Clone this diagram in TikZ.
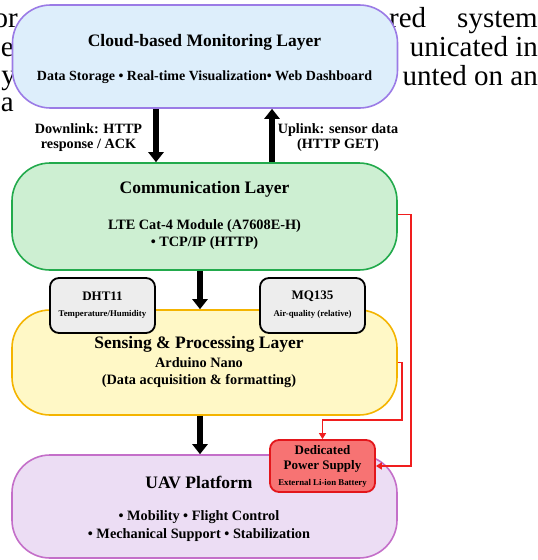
\documentclass[tikz,border=0pt]{standalone}
\usepackage{fontspec}
\setmainfont{Liberation Serif}
\usetikzlibrary{arrows.meta,calc}
\definecolor{cloudfill}{HTML}{DDEEFB}
\definecolor{cloudline}{HTML}{9B7BE6}
\definecolor{commfill}{HTML}{CDEFD2}
\definecolor{commline}{HTML}{22AA4C}
\definecolor{sensfill}{HTML}{FFF8C6}
\definecolor{sensline}{HTML}{F4B400}
\definecolor{uavfill}{HTML}{ECDDF4}
\definecolor{uavline}{HTML}{C46FC9}
\definecolor{pwrfill}{HTML}{F77373}
\definecolor{pwrline}{HTML}{E3161B}
\definecolor{sensorfill}{HTML}{EDEDED}
\definecolor{redwire}{HTML}{F01E1E}
\begin{document}
\begin{tikzpicture}[x=1pt,y=-1pt,
  layerbox/.style={draw, line width=1.6pt, rounded corners=38pt, minimum width=385pt, inner sep=0pt},
  smallbox/.style={draw, line width=1.8pt, rounded corners=9pt, minimum width=105pt, inner sep=0pt},
  bigarrow/.style={line width=5.5pt, -{Triangle[width=15pt,length=10pt]}},
  wire/.style={draw=redwire, line width=1.4pt, -{Triangle[width=7pt,length=6pt]}},
  bgtext/.style={font=\fontsize{29}{31}\selectfont, inner sep=0pt},
  ttl/.style={font=\fontsize{17.5}{20}\selectfont\bfseries, inner sep=0pt},
  sub/.style={font=\fontsize{14.3}{16}\selectfont\bfseries, inner sep=0pt},
  box/.style={font=\fontsize{13}{15}\selectfont\bfseries, inner sep=0pt},
  lbl/.style={font=\fontsize{14.2}{15.5}\selectfont\bfseries, align=center, inner sep=0pt},
  tiny/.style={font=\fontsize{8.8}{10}\selectfont\bfseries, inner sep=0pt}
]
\useasboundingbox (0,0) rectangle (538,560);
\clip (0,0) rectangle (538,560);
\fill[white] (0,0) rectangle (538,560);

% background page text
\node[bgtext, anchor=base east] (bg1) at (18,27) {or};
\node[bgtext, anchor=base east] (bg2) at (14,56) {e};
\node[bgtext, anchor=base east] (bg3) at (16,84) {y};
\node[bgtext, anchor=base east] (bg4) at (14,111) {a};
\node[bgtext, anchor=base west] (bg5) at (389,27) {red};
\node[bgtext, anchor=base east] (bg6) at (538,27) {system};
\node[bgtext, anchor=base east] (bg7) at (538,56) {unicated in};
\node[bgtext, anchor=base east] (bg8) at (538,85) {unted on an};

% layers
\node[layerbox, draw=cloudline, fill=cloudfill, minimum height=103pt] (cloud) at (205,56.5) {};
\node[layerbox, draw=commline, fill=commfill, minimum height=107pt] (comm) at (204.5,216.5) {};
\node[layerbox, draw=sensline, fill=sensfill, minimum height=105pt] (sens) at (204.5,362.5) {};
\node[layerbox, draw=uavline, fill=uavfill, minimum height=103pt] (uav) at (204.5,506.5) {};

% sensors and power
\node[smallbox, fill=sensorfill, minimum height=55pt] (dht) at (102.5,305.5) {};
\node[smallbox, fill=sensorfill, minimum height=55pt] (mq) at (312.5,305.5) {};
\node[smallbox, draw=pwrline, fill=pwrfill, minimum height=52pt] (pwr) at (322.5,466) {};

% texts
\node[ttl] (cloudt) at (204.5,42) {Cloud-based Monitoring Layer};
\node[sub, font=\fontsize{14}{16}\selectfont\bfseries] (clouds) at (204.5,77) {Data Storage • Real-time Visualization• Web Dashboard};

\node[ttl] (commt) at (204.5,189) {Communication Layer};
\node[sub] (comms1) at (204.5,226) {LTE Cat-4 Module (A7608E-H)};
\node[sub] (comms2) at (204.5,243) {• TCP/IP (HTTP)};

\node[ttl] (senst) at (199,344) {Sensing \& Processing Layer};
\node[sub] (senss1) at (199,363) {Arduino Nano};
\node[sub] (senss2) at (199,381) {(Data acquisition \& formatting)};

\node[ttl] (uavt) at (199,482) {UAV Platform};
\node[sub] (uavs1) at (199,517) {• Mobility • Flight Control};
\node[sub] (uavs2) at (199,535) {• Mechanical Support • Stabilization};

\node[box] (dhtt) at (102.5,296) {DHT11};
\node[tiny] (dhts) at (102.5,314) {Temperature/Humidity};
\node[box] (mqt) at (312.5,296) {MQ135};
\node[tiny] (mqs) at (312.5,314) {Air-quality (relative)};

\node[box] (pwrt1) at (322.5,450) {Dedicated};
\node[box] (pwrt2) at (322.5,466) {Power Supply};
\node[tiny] (pwrs) at (322.5,483) {External Li-ion Battery};

\node[lbl] (dlabel) at (88.5,137.5) {Downlink: HTTP\\response / ACK};
\node[lbl] (ulabel) at (338,137.5) {Uplink: sensor data\\(HTTP GET)};

% arrows
\coordinate (dl) at (156,0);
\coordinate (ul) at (272,0);
\coordinate (mid) at (200,0);
\draw[bigarrow] (cloud.south -| dl) -- (comm.north -| dl);
\draw[bigarrow] (comm.north -| ul) -- (cloud.south -| ul);
\draw[bigarrow] (comm.south -| mid) -- (sens.north -| mid);
\draw[bigarrow] (sens.south -| mid) -- (uav.north -| mid);

% power wires
\coordinate (w1) at (411,0);
\coordinate (w2) at (402,420);
\coordinate (cw) at ([yshift=2pt]comm.east);
\draw[wire] (cw) -- (w1 |- cw) -- (w1 |- pwr.east) -- (pwr.east);
\draw[wire] (sens.east) -- (w2 |- sens.east) -- (w2) -- (pwr.north |- w2) -- (pwr.north);
\end{tikzpicture}
\end{document}
